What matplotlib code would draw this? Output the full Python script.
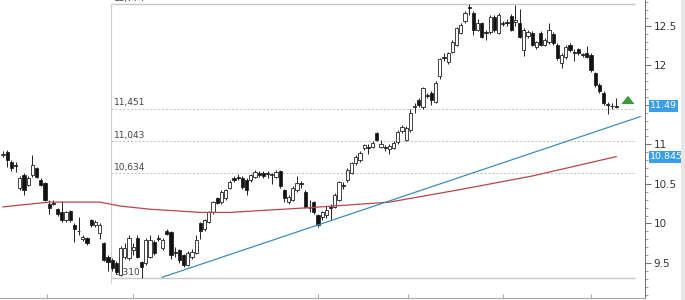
import matplotlib

matplotlib.use("Agg")
import matplotlib.pyplot as plt
import numpy as np
from matplotlib.patches import Rectangle
from matplotlib.ticker import FuncFormatter, MultipleLocator
from matplotlib.transforms import blended_transform_factory

# daily candles
opens = [
    10.86, 10.90, 10.78, 10.74, 10.45, 10.61, 10.49, 10.61, 10.70, 10.55,
    10.51, 10.25, 10.26, 10.18, 10.14, 10.04, 10.16, 9.98, 9.91, 9.80,
    9.82, 10.05, 9.98, 9.88, 9.75, 9.58, 9.54, 9.50, 9.35, 9.57,
    9.56, 9.66, 9.82, 9.51, 9.50, 9.58, 9.77, 9.82, 9.69, 9.91,
    9.89, 9.64, 9.66, 9.60, 9.48, 9.58, 9.63, 10.00, 9.93, 10.02,
    10.14, 10.32, 10.27, 10.32, 10.45, 10.58, 10.59, 10.58, 10.55, 10.55,
    10.59, 10.64, 10.64, 10.64, 10.61, 10.59, 10.66, 10.42, 10.27, 10.30,
    10.42, 10.51, 10.40, 10.20, 10.27, 10.11, 10.08, 10.11, 10.21, 10.21,
    10.30, 10.49, 10.55, 10.64, 10.76, 10.80, 10.95, 10.97, 10.97, 11.14,
    10.97, 10.97, 10.94, 10.96, 11.03, 11.17, 11.06, 11.18, 11.47, 11.56,
    11.47, 11.62, 11.65, 11.54, 11.86, 12.11, 12.04, 12.17, 12.26, 12.41,
    12.56, 12.74, 12.66, 12.45, 12.53, 12.42, 12.42, 12.61, 12.41, 12.53,
    12.55, 12.62, 12.55, 12.53, 12.19, 12.37, 12.41, 12.23, 12.41, 12.26,
    12.29, 12.40, 12.26, 12.03, 12.10, 12.26, 12.17, 12.20, 12.14, 12.15,
    12.13, 11.90, 11.75, 11.65, 11.51, 11.49, 11.48,
]
closes = [
    10.88, 10.80, 10.70, 10.73, 10.57, 10.42, 10.58, 10.74, 10.59, 10.49,
    10.30, 10.20, 10.25, 10.12, 10.04, 10.14, 10.04, 9.93, 9.90, 9.83,
    9.75, 9.98, 10.02, 9.98, 9.54, 9.51, 9.44, 9.39, 9.69, 9.69,
    9.82, 9.70, 9.58, 9.45, 9.79, 9.79, 9.63, 9.81, 9.79, 9.87,
    9.60, 9.63, 9.54, 9.48, 9.63, 9.64, 9.79, 9.90, 10.04, 10.14,
    10.27, 10.26, 10.40, 10.42, 10.52, 10.55, 10.58, 10.46, 10.42, 10.61,
    10.65, 10.61, 10.60, 10.63, 10.62, 10.65, 10.47, 10.32, 10.34, 10.45,
    10.51, 10.50, 10.21, 10.19, 10.14, 9.98, 10.14, 10.17, 10.20, 10.36,
    10.52, 10.48, 10.68, 10.76, 10.84, 10.89, 10.99, 10.96, 11.02, 11.06,
    11.00, 10.96, 10.98, 11.02, 11.16, 11.22, 11.21, 11.40, 11.48, 11.50,
    11.71, 11.61, 11.56, 11.78, 12.08, 12.09, 12.15, 12.30, 12.47, 12.51,
    12.66, 12.73, 12.45, 12.53, 12.36, 12.41, 12.61, 12.45, 12.64, 12.52,
    12.54, 12.45, 12.57, 12.36, 12.45, 12.42, 12.26, 12.29, 12.26, 12.32,
    12.45, 12.28, 12.09, 12.13, 12.23, 12.19, 12.16, 12.15, 12.13, 12.11,
    11.94, 11.75, 11.67, 11.52, 11.50, 11.48, 11.47,
]
highs = [
    10.92, 10.93, 10.80, 10.78, 10.60, 10.64, 10.60, 10.86, 10.72, 10.57,
    10.52, 10.30, 10.30, 10.20, 10.28, 10.16, 10.17, 10.00, 10.08, 9.85,
    9.83, 10.06, 10.05, 10.00, 9.77, 9.60, 9.56, 9.52, 9.72, 9.75,
    9.86, 9.75, 9.85, 9.52, 9.82, 9.86, 9.79, 9.86, 9.82, 9.93,
    9.91, 9.70, 9.68, 9.62, 9.65, 9.68, 9.86, 10.02, 10.06, 10.16,
    10.29, 10.34, 10.42, 10.44, 10.55, 10.60, 10.62, 10.60, 10.57, 10.63,
    10.67, 10.66, 10.66, 10.66, 10.64, 10.67, 10.68, 10.44, 10.36, 10.47,
    10.60, 10.54, 10.42, 10.30, 10.29, 10.12, 10.16, 10.22, 10.24, 10.38,
    10.54, 10.52, 10.70, 10.78, 10.86, 10.91, 11.01, 11.00, 11.04, 11.16,
    11.06, 10.99, 11.00, 11.04, 11.18, 11.25, 11.23, 11.45, 11.52, 11.58,
    11.73, 11.65, 11.67, 11.80, 12.09, 12.15, 12.17, 12.32, 12.49, 12.53,
    12.68, 12.774, 12.68, 12.58, 12.55, 12.45, 12.64, 12.63, 12.66, 12.56,
    12.58, 12.65, 12.76, 12.71, 12.47, 12.45, 12.43, 12.31, 12.43, 12.34,
    12.54, 12.42, 12.28, 12.15, 12.25, 12.28, 12.20, 12.22, 12.16, 12.24,
    12.15, 11.92, 11.77, 11.67, 11.53, 11.52, 11.58,
]
lows = [
    10.84, 10.72, 10.66, 10.65, 10.42, 10.36, 10.47, 10.59, 10.57, 10.47,
    10.29, 10.12, 10.23, 10.10, 10.02, 10.02, 10.02, 9.76, 9.85, 9.78,
    9.73, 9.96, 9.96, 9.80, 9.52, 9.40, 9.40, 9.36, 9.33, 9.55,
    9.54, 9.60, 9.56, 9.31, 9.48, 9.56, 9.60, 9.78, 9.66, 9.85,
    9.55, 9.58, 9.50, 9.45, 9.46, 9.55, 9.61, 9.80, 9.90, 10.00,
    10.12, 10.24, 10.25, 10.30, 10.43, 10.53, 10.55, 10.44, 10.36, 10.53,
    10.57, 10.59, 10.58, 10.58, 10.50, 10.57, 10.45, 10.27, 10.25, 10.28,
    10.40, 10.45, 10.19, 10.14, 10.12, 9.96, 10.04, 10.07, 10.05, 10.19,
    10.28, 10.44, 10.53, 10.62, 10.74, 10.78, 10.93, 10.88, 10.95, 11.04,
    10.95, 10.91, 10.88, 10.94, 11.01, 11.15, 11.04, 11.16, 11.40, 11.47,
    11.45, 11.58, 11.50, 11.52, 11.83, 12.05, 12.02, 12.15, 12.24, 12.39,
    12.54, 12.63, 12.38, 12.43, 12.34, 12.32, 12.40, 12.42, 12.39, 12.50,
    12.50, 12.43, 12.50, 12.34, 12.12, 12.35, 12.24, 12.21, 12.24, 12.24,
    12.27, 12.26, 12.07, 11.96, 12.08, 12.17, 12.05, 12.13, 12.11, 12.09,
    11.92, 11.73, 11.65, 11.50, 11.39, 11.45, 11.46,
]

# long moving average (red), sampled at candle indices
ma_idx = [0, 11, 23, 28, 35, 47, 54, 73, 92, 109, 126, 146]
ma_val = [10.21, 10.27, 10.27, 10.22, 10.18, 10.14, 10.14, 10.20, 10.27, 10.43, 10.60, 10.845]

# trend line (blue)
trend_idx = [37.9, 151.7]
trend_val = [9.32, 11.35]

# fibonacci retracement box
fib_vals = [12.774, 11.451, 11.043, 10.634, 9.310]
fib_labels = ["12,774", "11,451", "11,043", "10,634", "9,310"]
fib_start, fib_end = 25.7, 150.5

# price tags on the right axis
tag_vals = [11.49, 10.845]
tag_texts = ["11.49", "10.845"]

# month separators on the bottom axis
xtick_pos = [10.5, 31, 75, 96.5, 119, 140]

o = np.array(opens)
c = np.array(closes)
h = np.array(highs)
l = np.array(lows)
x = np.arange(len(o))
up = c >= o

fig = plt.figure(figsize=(6.85, 3.0), dpi=100)
fig.patches.append(Rectangle((681 / 685, 0), 4 / 685, 1, transform=fig.transFigure,
                             facecolor="#e6e6e6", edgecolor="none", zorder=0))
ax = fig.add_axes([0, 2 / 300, 645 / 685, 298 / 300])
ax.set_facecolor("white")

# fib box
for val, lbl in zip(fib_vals, fib_labels):
    edge = val in (fib_vals[0], fib_vals[-1])
    ax.hlines(val, fib_start, fib_end, colors="#c8c8c8" if edge else "#bdbdbd",
              linestyles="-" if edge else (0, (2, 2)), lw=1.0 if edge else 0.7, zorder=1)
    ax.annotate(lbl, (fib_start + 0.4, val), xytext=(1, 1), textcoords="offset points",
                fontsize=6.5, color="#444", va="bottom", ha="left", zorder=1)
ax.vlines(fib_start, fib_vals[-1] - 0.06, fib_vals[0], colors="#d0d0d0", lw=0.8, zorder=1)

# candles
ax.vlines(x, l, h, color="#222", lw=0.7, zorder=2)
ax.bar(x, np.abs(c - o), bottom=np.minimum(o, c), width=0.72,
       color=np.where(up, "white", "#111"), edgecolor="#222", linewidth=0.6, zorder=3)

ax.plot(ma_idx, ma_val, color="#b5474b", lw=0.9, zorder=4)
ax.plot(trend_idx, trend_val, color="#3a8fb7", lw=0.9, zorder=4)

# green up arrow
ax.annotate("", xy=(148.8, 11.65), xytext=(148.8, 11.50),
            arrowprops=dict(arrowstyle="simple,head_width=0.95,head_length=0.6,tail_width=0.42",
                            color="#3b9a3b", lw=0, mutation_scale=10), zorder=5)

ax.set_xlim(-0.714, 152.86)
ax.set_ylim(9.058, 12.825)

for side in ("left", "top"):
    ax.spines[side].set_visible(False)
ax.spines["right"].set_color("#777")
ax.spines["bottom"].set_color("#aaa")

# the 11.5 label sits under the last-price tag, so leave it blank
ax.yaxis.tick_right()
ax.yaxis.set_major_locator(MultipleLocator(0.5))
ax.yaxis.set_minor_locator(MultipleLocator(0.1))
ax.yaxis.set_major_formatter(FuncFormatter(lambda v, _: "" if abs(v - 11.5) < 1e-6 else f"{v:g}"))
ax.tick_params(axis="y", which="major", length=4, width=0.6, color="#555",
               labelsize=7.5, labelcolor="#333", pad=2)
ax.tick_params(axis="y", which="minor", length=2, width=0.5, color="#777")

ax.set_xticks(xtick_pos)
ax.tick_params(axis="x", direction="in", length=3, width=0.6, color="#999", labelbottom=False)

trans = blended_transform_factory(ax.transAxes, ax.transData)
for val, txt in zip(tag_vals, tag_texts):
    ax.text(1.0 + 5 / 645, val, txt, transform=trans, ha="left", va="center",
            fontsize=6.8, color="white", clip_on=False, zorder=6,
            bbox=dict(boxstyle="square,pad=0.15", fc="#3c9ee5", ec="none"))

fig.savefig("out.png", dpi=100)
